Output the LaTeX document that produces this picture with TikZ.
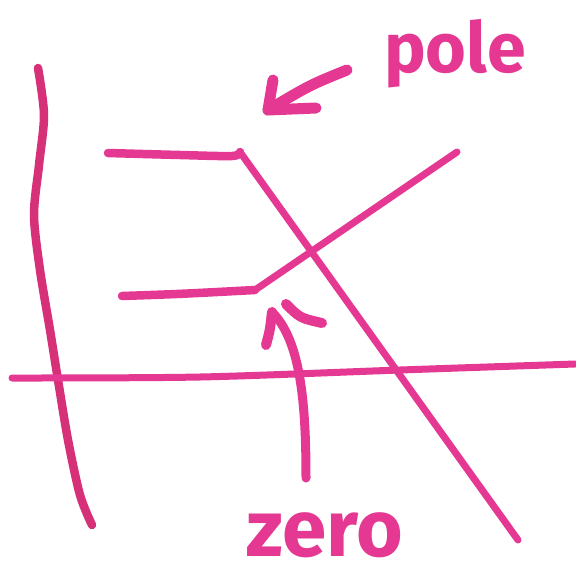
\documentclass[tikz,border=0pt]{standalone}
\usepackage{fontspec}
\newfontfamily\handfont{Fira Sans}
\definecolor{marker}{RGB}{228,56,146}
\definecolor{markerdark}{RGB}{200,40,95}
\tikzset{
  stroke/.style={draw=marker, line width=8.5pt, line cap=round, line join=round},
  thick stroke/.style={stroke, line width=11pt},
  label/.style={text=marker, font=\handfont\bfseries, inner sep=0pt}
}
\begin{document}
\begin{tikzpicture}[x=1pt,y=-1pt]
\useasboundingbox[fill=white] (0,0) rectangle (576,579);
% imaginary axis (wavy)
\draw[stroke, draw=markerdark!50!marker] plot[smooth] coordinates {(38,68) (44,115) (39,165) (34,215) (40,270) (50,330) (58,380) (68,440) (80,495) (92,525)};
% real axis
\draw[stroke, line width=7pt] plot[smooth] coordinates {(12,378) (200,377) (400,370) (575,364)};
% upper horizontal stub and its diagonal
\coordinate (ua) at (108,153);
\coordinate (ub) at (240,152);
\coordinate (ue) at (518,540);
\draw[stroke] plot[smooth] coordinates {(108,153) (180,155) (232,156) (240,152)};
\draw[stroke, line width=7pt] (ub) -- (ue);
% lower horizontal stub and its diagonal
\coordinate (la) at (122,296);
\coordinate (lb) at (255,290);
\coordinate (le) at (457,152);
\draw[stroke] (la) .. controls (180,294) .. (lb);
\draw[stroke, line width=7pt] (lb) -- (le);
% labels
\node[label, font=\handfont\bfseries\fontsize{70}{70}\selectfont, anchor=base west] (pole) at (384,72) {pole};
\node[label, font=\handfont\bfseries\fontsize{80}{80}\selectfont, anchor=base west] (zero) at (246,556) {zero};
% arrow to pole
\coordinate (pt) at (268,110);
\draw[thick stroke] (347,70) .. controls (310,85) .. (pt);
\draw[thick stroke] (273,80) -- (pt) -- (316,108);
% arrow to zero
\coordinate (zt) at (272,312);
\draw[stroke, line width=9pt] (306,478) .. controls (306,400) and (300,340) .. (zt);
\draw[stroke, line width=10pt] (zt) .. controls (270,330) .. (266,345);
\draw[stroke, line width=10pt] (286,304) .. controls (300,318) .. (322,323);
\end{tikzpicture}
\end{document}
